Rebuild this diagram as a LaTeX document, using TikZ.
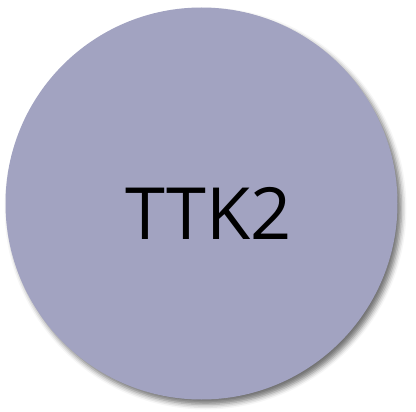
\documentclass[tikz,border=0pt]{standalone}
\usepackage{fontspec}
\setmainfont{Open Sans}
\usetikzlibrary{shadows.blur}
\definecolor{gene}{HTML}{A2A3C1}

\begin{document}
\begin{tikzpicture}[x=1pt, y=-1pt,
  genenode/.style={circle, fill=gene, minimum size=392pt, inner sep=0pt,
    blur shadow={shadow xshift=4pt, shadow yshift=-5pt, shadow blur radius=5pt, shadow opacity=55}},
  genelabel/.style={font=\fontsize{72}{80}\selectfont, anchor=base, inner sep=0pt}]
  \useasboundingbox (0,0) rectangle (416,412);
  % gene circle
  \node[genenode] (ttk) at (201.5,203.5) {};
  \node[genelabel] (lbl) at (208.5,240) {TTK2};
\end{tikzpicture}
\end{document}
